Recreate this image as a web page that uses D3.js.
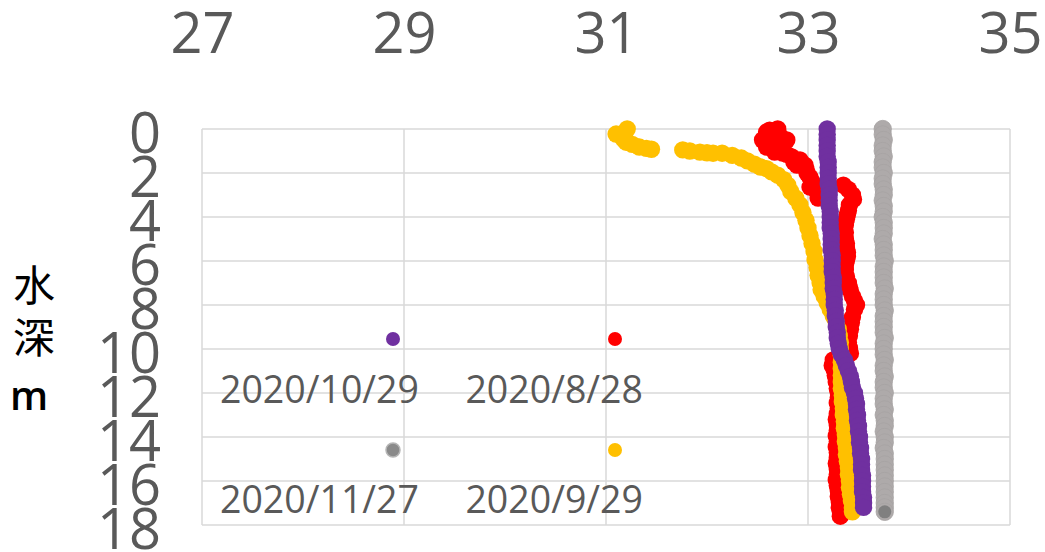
<!DOCTYPE html>
<html>
<head>
<meta charset="utf-8">
<script src="https://cdn.jsdelivr.net/npm/d3@7/dist/d3.min.js"></script>
<style>
  html, body { margin: 0; padding: 0; background: #ffffff; }
  svg { display: block; }
</style>
</head>
<body>
<div id="chart"></div>
<script>
// ---------- data ----------
const xTicks = [27, 29, 31, 33, 35];
const yTicks = [0, 2, 4, 6, 8, 10, 12, 14, 16, 18];
const seriesNames = ["2020/8/28", "2020/9/29", "2020/10/29", "2020/11/27"];
const seriesColors = ["#ff0000", "#ffc000", "#7030a0", "#aeaaaa"];
const axisTitle = ["水", "深", "m"];

// [depth (m), value]
const s0828 = [
  [0.00,32.70],[0.05,32.62],[0.14,32.59],[0.25,32.66],[0.30,32.72],[0.41,32.65],[0.50,32.55],[0.50,32.79],
  [0.65,32.62],[0.70,32.70],[0.82,32.59],[0.90,32.72],[1.05,32.67],[1.09,32.75],[1.15,32.79],[1.27,32.84],
  [1.41,32.92],[1.50,32.86],[1.64,32.89],[1.64,32.97],[1.82,32.98],
  [2.00,32.99],[2.20,33.02],[2.41,33.04],[2.64,33.02],[2.86,33.09],[3.14,33.10],
  [2.55,33.35],[2.75,33.40],[3.00,33.44],[3.20,33.45],[3.45,33.41],[3.70,33.40],[3.90,33.39],[4.10,33.38],
  [4.36,33.37],[4.70,33.37],[5.00,33.37],[5.20,33.38],[5.40,33.38],[5.60,33.39],[5.80,33.39],[6.00,33.38],
  [6.20,33.37],[6.40,33.37],[6.70,33.38],[7.00,33.40],[7.20,33.41],[7.35,33.42],[7.60,33.44],[7.80,33.46],
  [8.00,33.48],[8.20,33.46],[8.55,33.44],[8.80,33.43],[9.10,33.42],[9.40,33.41],[9.70,33.40],[9.95,33.41],
  [10.20,33.42],
  [10.50,33.25],[10.75,33.24],[10.95,33.26],[11.20,33.27],[11.50,33.28],[11.80,33.29],[12.00,33.30],[12.20,33.30],
  [12.45,33.29],[12.70,33.30],[12.95,33.29],[13.20,33.28],[13.45,33.29],[13.70,33.29],[13.95,33.28],[14.20,33.29],
  [14.45,33.28],[14.70,33.29],[14.95,33.29],[15.20,33.28],[15.45,33.29],[15.70,33.29],[15.95,33.28],[16.20,33.29],
  [16.45,33.30],[16.70,33.30],[16.95,33.31],[17.20,33.31],[17.40,33.32],[17.60,33.32]
];
const s0929 = [
  [0.00,31.21],[0.23,31.10],[0.45,31.17],[0.60,31.20],[0.70,31.26],[0.82,31.33],[0.88,31.40],[0.92,31.45],
  [0.95,31.76],[1.00,31.83],[1.05,31.93],[1.08,32.00],[1.10,32.06],[1.10,32.15],[1.20,32.25],[1.32,32.34],
  [1.45,32.40],[1.60,32.47],[1.73,32.53],[1.80,32.59],[1.95,32.64],[2.10,32.70],[2.30,32.76],[2.55,32.80],
  [2.85,32.83],[3.15,32.88],[3.45,32.92],[3.80,32.95],[4.15,32.98],[4.50,33.00],[4.85,33.02],[5.20,33.04],
  [5.55,33.06],[5.95,33.07],[6.30,33.09],[6.65,33.10],[7.00,33.12],[7.30,33.13],[7.60,33.16],[7.90,33.19],
  [8.20,33.22],[8.50,33.25],[8.80,33.28],[9.10,33.30],[9.40,33.31],[9.70,33.32],[10.00,33.32],[10.30,33.33],
  [10.60,33.33],[10.90,33.33],[11.20,33.33],[11.50,33.33],[11.80,33.33],[12.10,33.34],[12.40,33.34],[12.70,33.35],
  [13.00,33.35],[13.30,33.36],[13.60,33.36],[13.90,33.37],[14.20,33.37],[14.50,33.38],[14.80,33.38],[15.10,33.39],
  [15.40,33.40],[15.70,33.40],[16.00,33.41],[16.30,33.41],[16.60,33.42],[16.90,33.43],[17.20,33.44],[17.40,33.44]
];
const s1029 = [
  [0.00,33.19],[0.25,33.19],[0.50,33.19],[0.75,33.19],[1.00,33.19],[1.25,33.19],[1.50,33.20],[1.75,33.20],
  [2.00,33.20],[2.25,33.20],[2.50,33.20],[2.75,33.21],[3.00,33.21],[3.25,33.21],[3.50,33.21],[3.75,33.22],
  [4.00,33.22],[4.25,33.22],[4.50,33.22],[4.75,33.23],[5.00,33.23],[5.25,33.23],[5.50,33.23],[5.75,33.24],
  [6.00,33.24],[6.25,33.24],[6.50,33.24],[6.75,33.25],[7.00,33.25],[7.25,33.25],[7.50,33.26],[7.75,33.26],
  [8.00,33.26],[8.25,33.27],[8.50,33.27],[8.75,33.28],[9.00,33.28],[9.25,33.29],[9.50,33.29],[9.75,33.30],
  [10.00,33.31],[10.25,33.33],[10.50,33.36],[10.75,33.38],[11.00,33.40],[11.25,33.42],[11.50,33.43],[11.75,33.44],
  [12.00,33.46],[12.25,33.47],[12.50,33.48],[12.75,33.48],[13.00,33.49],[13.25,33.49],[13.50,33.50],[13.75,33.50],
  [14.00,33.51],[14.25,33.51],[14.50,33.52],[14.75,33.52],[15.00,33.53],[15.25,33.53],[15.50,33.53],[15.75,33.54],
  [16.00,33.54],[16.25,33.54],[16.50,33.54],[16.75,33.55],[17.00,33.55],[17.20,33.55]
];
const s1127 = [
  [0.00,33.74],[0.25,33.74],[0.50,33.75],[0.75,33.74],[1.00,33.74],[1.25,33.75],[1.50,33.74],[1.75,33.74],
  [2.00,33.75],[2.25,33.74],[2.50,33.74],[2.75,33.75],[3.00,33.75],[3.25,33.74],[3.50,33.75],[3.75,33.75],
  [4.00,33.74],[4.25,33.75],[4.50,33.75],[4.75,33.75],[5.00,33.74],[5.25,33.75],[5.50,33.75],[5.75,33.75],
  [6.00,33.76],[6.25,33.75],[6.50,33.75],[6.75,33.75],[7.00,33.75],[7.25,33.76],[7.50,33.75],[7.75,33.75],
  [8.00,33.75],[8.25,33.76],[8.50,33.75],[8.75,33.75],[9.00,33.75],[9.25,33.75],[9.50,33.76],[9.75,33.75],
  [10.00,33.75],[10.25,33.75],[10.50,33.76],[10.75,33.75],[11.00,33.75],[11.25,33.76],[11.50,33.75],[11.75,33.75],
  [12.00,33.76],[12.25,33.75],[12.50,33.75],[12.75,33.76],[13.00,33.75],[13.25,33.76],[13.50,33.76],[13.75,33.75],
  [14.00,33.76],[14.25,33.76],[14.50,33.75],[14.75,33.76],[15.00,33.76],[15.25,33.76],[15.50,33.76],[15.75,33.76],
  [16.00,33.76],[16.25,33.76],[16.50,33.76],[16.75,33.76],[17.00,33.76],[17.20,33.76],[17.40,33.76]
];
const seriesData = [s0828, s0929, s1029, s1127];

// ---------- chart ----------
const W = 1045, H = 552;
const svg = d3.select("#chart").append("svg").attr("width", W).attr("height", H);
svg.append("rect").attr("width", W).attr("height", H).attr("fill", "#ffffff");

const x = d3.scaleLinear().domain([27, 35]).range([202, 1010]);
const y = d3.scaleLinear().domain([0, 18]).range([129, 525]);

const grid = svg.append("g");
grid.selectAll("line.h").data(yTicks).join("line")
  .attr("x1", x(27)).attr("x2", x(35))
  .attr("y1", d => y(d)).attr("y2", d => y(d))
  .attr("stroke", "#d9d9d9").attr("stroke-width", 1.5);
grid.selectAll("line.v").data(xTicks).join("line")
  .attr("x1", d => x(d)).attr("x2", d => x(d))
  .attr("y1", y(0)).attr("y2", y(18))
  .attr("stroke", "#d9d9d9").attr("stroke-width", 1.5);

// top x axis
const xAxis = svg.append("g").attr("transform", "translate(0,53)")
  .call(d3.axisTop(x).tickValues(xTicks).tickSize(0).tickPadding(0).tickFormat(d3.format("d")));
xAxis.select(".domain").remove();
xAxis.selectAll("text").attr("font-family", "'Open Sans', sans-serif").attr("font-size", 56).attr("fill", "#595959");

// left y axis
const yAxis = svg.append("g").attr("transform", "translate(161,0)")
  .call(d3.axisLeft(y).tickValues(yTicks).tickSize(0).tickPadding(0).tickFormat(d3.format("d")));
yAxis.select(".domain").remove();
yAxis.selectAll("text").attr("dy", null).attr("y", 23)
  .attr("font-family", "'Open Sans', sans-serif").attr("font-size", 56).attr("fill", "#595959");

// axis title
const tg = svg.append("g").attr("font-family", "'Noto Sans CJK TC', 'Noto Sans CJK SC', sans-serif").attr("fill", "#000");
tg.append("text").attr("x", 34).attr("y", 282).attr("text-anchor", "middle").attr("dominant-baseline", "central")
  .attr("font-size", 42).text(axisTitle[0]);
tg.append("text").attr("x", 34).attr("y", 334).attr("text-anchor", "middle").attr("dominant-baseline", "central")
  .attr("font-size", 42).text(axisTitle[1]);
tg.append("text").attr("x", 29).attr("y", 410).attr("text-anchor", "middle")
  .attr("font-family", "'Open Sans', sans-serif").attr("font-size", 40).attr("font-weight", 600).text(axisTitle[2]);

// series
seriesData.forEach((data, i) => {
  const g = svg.append("g");
  g.selectAll("circle").data(data).join("circle")
    .attr("cx", d => x(d[1])).attr("cy", d => y(d[0])).attr("r", 8.7)
    .attr("fill", seriesColors[i])
    .attr("stroke", i === 3 ? "#a7a3a3" : "none").attr("stroke-width", 0.8);
  if (i === 3) {
    const last = data[data.length - 1];
    g.append("circle").attr("cx", x(last[1])).attr("cy", y(last[0])).attr("r", 6.5)
      .attr("fill", "#808080");
  }
});

// legend (inside plot)
const legendPos = [
  {i: 2, mx: 393, my: 339, tx: 419, ty: 403},
  {i: 0, mx: 615, my: 339, tx: 643, ty: 403},
  {i: 3, mx: 393, my: 450, tx: 419, ty: 513},
  {i: 1, mx: 615, my: 450, tx: 643, ty: 513}
];
const lg = svg.append("g");
legendPos.forEach(p => {
  lg.append("circle").attr("cx", p.mx).attr("cy", p.my).attr("r", 7)
    .attr("fill", p.i === 3 ? "#8a8a8a" : seriesColors[p.i])
    .attr("stroke", p.i === 3 ? "#b5b5b5" : "none").attr("stroke-width", 1.5);
  lg.append("text").attr("x", p.tx).attr("y", p.ty).attr("text-anchor", "end")
    .attr("font-family", "'Open Sans', sans-serif").attr("font-size", 37.5).attr("fill", "#595959")
    .text(seriesNames[p.i]);
});
</script>
</body>
</html>
